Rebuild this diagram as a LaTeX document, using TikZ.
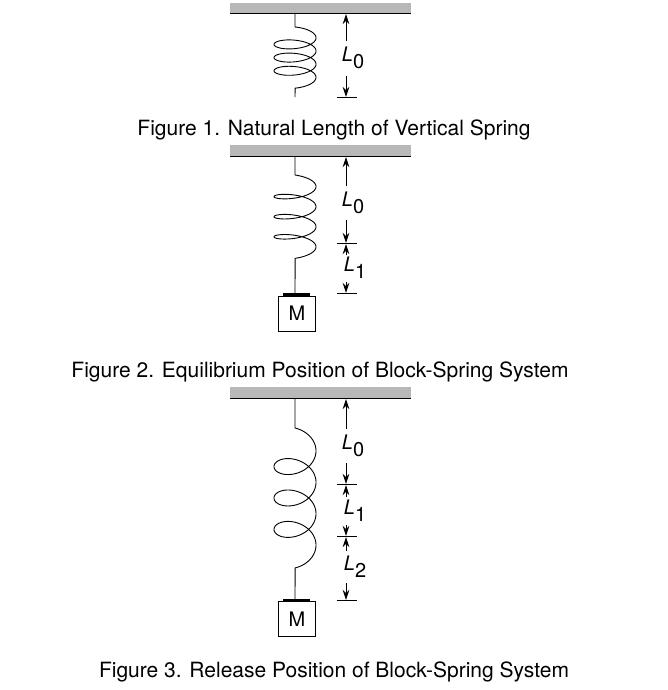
\documentclass[tikz,border=0pt]{standalone}
\usepackage{fontspec}
\setmainfont{TeX Gyre Heros}
\usetikzlibrary{arrows.meta}
\tikzset{
  ceil/.style={fill=black!28,draw=none},
  wire/.style={line width=0.9pt},
  dim/.style={line width=0.8pt,-{Stealth[length=10pt,width=6.5pt]}},
  tick/.style={line width=0.8pt},
  lab/.style={inner sep=0pt,font=\fontsize{20}{24}\selectfont},
  figcap/.style={inner sep=0pt,font=\fontsize{21}{25}\selectfont},
  mass/.style={draw,line width=0.8pt,minimum width=37pt,minimum height=35pt,inner sep=0pt,font=\fontsize{20}{24}\selectfont},
  plate/.style={line width=3pt}
}
\newcommand{\Lsub}[1]{{\itshape L}\raisebox{-0.35em}{#1}}
\begin{document}
\begin{tikzpicture}[x=1pt,y=-1pt]
\useasboundingbox (0,0) rectangle (668,690);
% ---------- Figure 1
\fill[ceil] (230,3) rectangle (411,13);
\draw[wire] (230,13) -- (411,13);
\draw[wire] (295,13) -- (295,27)
  plot[domain=0:21.99,samples=300,variable=\t] ({295+21*sin(\t r)},{27+2.1*\t+7.5-7.5*cos(\t r)}) -- (295,97);
\node[lab] (a0) at (353,58) {\Lsub{0}};
\draw[dim] (346,41) -- (346,14);
\draw[dim] (346,76) -- (346,97);
\draw[tick] (337,97) -- (357,97);
\node[figcap] (c1) at (334,130) {Figure 1. Natural Length of Vertical Spring};
% ---------- Figure 2
\fill[ceil] (230,145) rectangle (411,156);
\draw[wire] (230,156) -- (411,156);
\node[mass] (m2) at (297,313.5) {M};
\draw[plate] (283,294) -- (310,294);
\draw[wire] (295,156) -- (295,175)
  plot[domain=0:21.99,samples=300,variable=\t] ({295+21*sin(\t r)},{175+3.2*\t+6.5-6.5*cos(\t r)}) -- (295,294);
\node[lab] (b0) at (353,203) {\Lsub{0}};
\draw[dim] (346,186) -- (346,157);
\draw[dim] (346,220) -- (346,243);
\draw[tick] (337,243) -- (357,243);
\node[lab] (b1) at (355,268) {\Lsub{1}};
\draw[dim] (346,255) -- (346,244);
\draw[dim] (346,282) -- (346,293);
\draw[tick] (337,293) -- (357,293);
\node[figcap] (c2) at (320,372) {Figure 2. Equilibrium Position of Block-Spring System};
% ---------- Figure 3
\fill[ceil] (230,387) rectangle (411,398);
\draw[wire] (230,398) -- (411,398);
\node[mass] (m3) at (297,619) {M};
\draw[plate] (283,600) -- (310,600);
\draw[wire] (295,398) -- (295,428)
  plot[domain=0:21.99,samples=300,variable=\t] ({295+21*sin(\t r)},{428+5*\t+15-15*cos(\t r)}) -- (295,600);
\node[lab] (d0) at (353,446) {\Lsub{0}};
\draw[dim] (346,429) -- (346,399);
\draw[dim] (346,463) -- (346,484);
\draw[tick] (337,484) -- (357,484);
\node[lab] (d1) at (355,511) {\Lsub{1}};
\draw[dim] (346,497) -- (346,485);
\draw[dim] (346,525) -- (346,536);
\draw[tick] (337,536) -- (357,536);
\node[lab] (d2) at (355,567) {\Lsub{2}};
\draw[dim] (346,551) -- (346,537);
\draw[dim] (346,583) -- (346,600);
\draw[tick] (337,600) -- (357,600);
\node[figcap] (c3) at (334,672) {Figure 3. Release Position of Block-Spring System};
\end{tikzpicture}
\end{document}
